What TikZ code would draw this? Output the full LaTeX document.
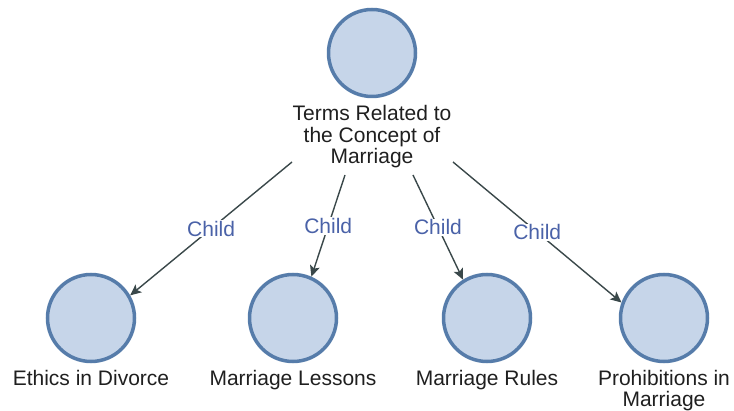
\documentclass[tikz,border=0pt]{standalone}
\usepackage{fontspec}
\setmainfont{Liberation Sans}
\usepackage{xcolor}
\usepackage{tikz}
\usetikzlibrary{positioning,calc,arrows.meta}
\definecolor{bubbleFill}{RGB}{198,213,233}
\definecolor{bubbleRim}{RGB}{86,124,170}
\definecolor{edgeGray}{RGB}{58,72,74}
\definecolor{childBlue}{RGB}{74,98,168}

\begin{document}
\begin{tikzpicture}[
		x=1pt, y=-1pt,
		bubble/.style={circle, draw=bubbleRim, fill=bubbleFill, line width=3.5pt, minimum size=87pt, inner sep=0pt},
		caption/.style={align=center, font=\fontsize{21}{21.5}\selectfont, text=black!88, inner sep=2pt},
		rel/.style={draw=edgeGray, line width=1.4pt, -{Stealth[length=11pt, width=10pt, inset=2.5pt]}},
		tag/.style={fill=white, inner sep=1pt, text=childBlue, font=\fontsize{21}{21.5}\selectfont}
		]
		\useasboundingbox (0,0) rectangle (734,411);
		
		% ===== root =====
		\node[bubble] (C0) at (372,53) {};
		\node[caption] (T0) at (372,137) {Terms Related to\\the Concept of\\Marriage};
		
		% ===== 4 children =====
		\foreach \x/\t [count=\i from 1] in {91/{Ethics in Divorce}, 293/{Marriage Lessons}, 487/{Marriage Rules}, 664/{Prohibitions in\\Marriage}}{
			\node[bubble] (C\i) at (\x,318) {};
			\node[caption, anchor=north] (T\i) at (\x,368) {\t};
		}
		
		% ===== start points under the root caption =====
		\coordinate (S1) at ($(T0.center)+(-80,25)$);
		\coordinate (S2) at ($(T0.center)+(-27,38)$);
		\coordinate (S3) at ($(T0.center)+(41,38)$);
		\coordinate (S4) at ($(T0.center)+(81,25)$);
		
		% ===== Child edges =====
		\draw[rel] (S1) -- node[tag] {Child} (C1.30);
		\draw[rel] (S2) -- node[tag] {Child} (C2.66);
		\draw[rel] (S3) -- node[tag] {Child} (C3.122);
		\draw[rel] (S4) -- node[tag] {Child} (C4.160);
		
	\end{tikzpicture}
\end{document}
